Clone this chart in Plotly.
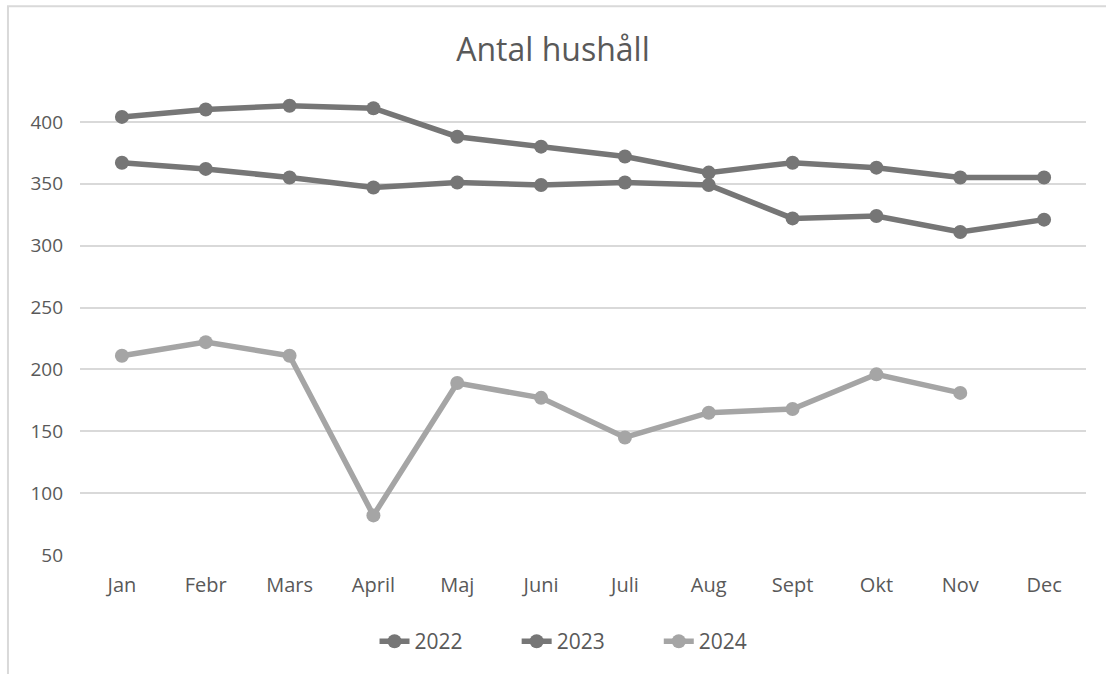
import plotly.graph_objects as go

months = ["Jan", "Febr", "Mars", "April", "Maj", "Juni", "Juli", "Aug", "Sept", "Okt", "Nov", "Dec"]
values_2022 = [367, 362, 355, 347, 351, 349, 351, 349, 322, 324, 311, 321]
values_2023 = [404, 410, 413, 411, 388, 380, 372, 359, 367, 363, 355, 355]
values_2024 = [211, 222, 211, 82, 189, 177, 145, 165, 168, 196, 181, None]

series = [
    ("2022", values_2022, "#767676"),
    ("2023", values_2023, "#767676"),
    ("2024", values_2024, "#A5A5A5"),
]

text_color = "#595959"
font_family = "Open Sans, Liberation Sans, sans-serif"

fig = go.Figure()
for name, vals, color in series:
    fig.add_trace(go.Scatter(
        x=months,
        y=vals,
        name=name + "\u00a0" * 9,
        mode="lines+markers",
        line=dict(color=color, width=5.5),
        marker=dict(color=color, size=14),
        connectgaps=False,
    ))

fig.update_layout(
    width=1106,
    height=674,
    paper_bgcolor="white",
    plot_bgcolor="white",
    margin=dict(l=80, r=20, t=60, b=116),
    title=dict(
        text="Antal hushåll",
        x=0.5,
        xanchor="center",
        y=0.926,
        yanchor="middle",
        font=dict(family=font_family, size=32, color=text_color),
    ),
    font=dict(family=font_family, size=19, color=text_color),
    xaxis=dict(
        range=[-0.5, 11.5],
        showgrid=False,
        showline=False,
        zeroline=False,
        ticks="",
        ticklabelstandoff=16,
        tickfont=dict(size=20, color=text_color),
    ),
    yaxis=dict(
        range=[50, 450],
        tickvals=[50, 100, 150, 200, 250, 300, 350, 400],
        showgrid=True,
        gridcolor="#D9D9D9",
        gridwidth=2,
        zeroline=False,
        showline=False,
        ticks="",
        ticklabelstandoff=16,
        tickfont=dict(size=19, color=text_color),
    ),
    legend=dict(
        orientation="h",
        x=0.505,
        xanchor="center",
        y=-0.175,
        yanchor="middle",
        font=dict(size=21, color=text_color),
    ),
    showlegend=True,
    shapes=[
        dict(
            type="rect",
            xref="paper",
            yref="paper",
            x0=-0.0716,
            x1=1.2,
            y0=-0.4,
            y1=1.1084,
            line=dict(color="#D9D9D9", width=2),
            fillcolor="rgba(0,0,0,0)",
            layer="below",
        )
    ],
)

# drop the page margin and stray line-height so the figure fills the window exactly
post = (
    "document.documentElement.style.margin='0';"
    "document.documentElement.style.overflow='hidden';"
    "document.body.style.margin='0';"
    "document.body.style.overflow='hidden';"
    "var gd=document.getElementById('{plot_id}');"
    "gd.style.display='block';"
    "gd.parentElement.style.height='674px';"
    "gd.parentElement.style.overflow='hidden';"
)
fig.write_html("out.html", config={"displayModeBar": False}, post_script=post)
